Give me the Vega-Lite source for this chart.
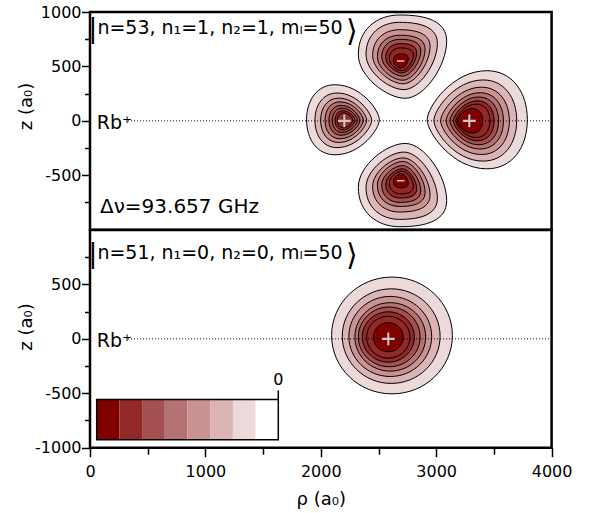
{
  "$schema": "https://vega.github.io/schema/vega-lite/v6.json",
  "padding": {"left": 16, "top": 2, "right": 5, "bottom": 5},
  "background": "white",
  "spacing": 0,
  "bounds": "flush",
  "config": {
    "font": "DejaVu Sans",
    "view": {"stroke": "black", "strokeWidth": 2.5},
    "axis": {
      "domain": false, "grid": false,
      "labelFont": "DejaVu Sans", "labelFontSize": 16, "labelColor": "black",
      "titleFont": "DejaVu Sans", "titleFontSize": 18, "titleFontWeight": "normal", "titleColor": "black",
      "tickColor": "black", "tickWidth": 1.5,
      "labelFlush": false, "labelOverlap": false, "labelBound": false
    }
  },
  "datasets": {
    "topContours": [
      {"lobe": "up", "level": -1.5, "rho": 2708, "z": 590, "w": 765},
      {"lobe": "up", "level": -2.5, "rho": 2701, "z": 596, "w": 618},
      {"lobe": "up", "level": -3.5, "rho": 2698, "z": 589, "w": 497},
      {"lobe": "up", "level": -4.5, "rho": 2697, "z": 580, "w": 413},
      {"lobe": "up", "level": -5.5, "rho": 2697, "z": 580, "w": 338},
      {"lobe": "up", "level": -6.3, "rho": 2697, "z": 575, "w": 269},
      {"lobe": "up", "level": -6.7, "rho": 2698, "z": 566, "w": 208},
      {"lobe": "up", "level": -7.5, "rho": 2693, "z": 550, "w": 130},
      {"lobe": "down", "level": -1.5, "rho": 2708, "z": -590, "w": 765},
      {"lobe": "down", "level": -2.5, "rho": 2701, "z": -596, "w": 618},
      {"lobe": "down", "level": -3.5, "rho": 2698, "z": -589, "w": 497},
      {"lobe": "down", "level": -4.5, "rho": 2697, "z": -580, "w": 413},
      {"lobe": "down", "level": -5.5, "rho": 2697, "z": -580, "w": 338},
      {"lobe": "down", "level": -6.3, "rho": 2697, "z": -575, "w": 269},
      {"lobe": "down", "level": -6.7, "rho": 2698, "z": -566, "w": 208},
      {"lobe": "down", "level": -7.5, "rho": 2693, "z": -550, "w": 130},
      {"lobe": "left", "level": -1.5, "rho": 2192, "z": 10, "w": 630},
      {"lobe": "left", "level": -2.5, "rho": 2195, "z": 5, "w": 491},
      {"lobe": "left", "level": -3.5, "rho": 2198, "z": 5, "w": 399},
      {"lobe": "left", "level": -4.5, "rho": 2203, "z": 5, "w": 332},
      {"lobe": "left", "level": -5.3, "rho": 2205, "z": 5, "w": 269},
      {"lobe": "left", "level": -5.7, "rho": 2208, "z": 5, "w": 217},
      {"lobe": "left", "level": -6.3, "rho": 2210, "z": 5, "w": 173},
      {"lobe": "left", "level": -6.6, "rho": 2210, "z": 5, "w": 133},
      {"lobe": "right", "level": -1.5, "rho": 3356, "z": 10, "w": 867},
      {"lobe": "right", "level": -2.5, "rho": 3339, "z": 3, "w": 717},
      {"lobe": "right", "level": -3.5, "rho": 3336, "z": 0, "w": 595},
      {"lobe": "right", "level": -4.5, "rho": 3334, "z": 0, "w": 497},
      {"lobe": "right", "level": -5.5, "rho": 3330, "z": 0, "w": 422},
      {"lobe": "right", "level": -6.3, "rho": 3325, "z": 0, "w": 353},
      {"lobe": "right", "level": -6.7, "rho": 3319, "z": 0, "w": 295},
      {"lobe": "right", "level": -7.5, "rho": 3293, "z": 0, "w": 219}
    ],
    "bottomContours": [
      {"lobe": "round", "level": -1.5, "rho": 2617, "z": 31, "w": 1046},
      {"lobe": "round", "level": -2.5, "rho": 2610, "z": 25, "w": 847},
      {"lobe": "round", "level": -3.5, "rho": 2602, "z": 22, "w": 717},
      {"lobe": "round", "level": -4.5, "rho": 2602, "z": 18, "w": 613},
      {"lobe": "round", "level": -5.5, "rho": 2593, "z": 18, "w": 535},
      {"lobe": "round", "level": -6.3, "rho": 2585, "z": 17, "w": 451},
      {"lobe": "round", "level": -6.7, "rho": 2585, "z": 15, "w": 375},
      {"lobe": "round", "level": -7.5, "rho": 2585, "z": 15, "w": 260}
    ],
    "topMarkers": [
      {"sign": "minus", "rho": 2692, "z": 550},
      {"sign": "minus", "rho": 2692, "z": -550},
      {"sign": "plus", "rho": 2204, "z": 0},
      {"sign": "plus", "rho": 3287, "z": 0}
    ],
    "bottomMarkers": [
      {"sign": "plus", "rho": 2585, "z": 0}
    ],
    "legendBins": [
      {"lo": -8, "hi": -7, "level": -7.5},
      {"lo": -7, "hi": -6, "level": -6.5},
      {"lo": -6, "hi": -5, "level": -5.5},
      {"lo": -5, "hi": -4, "level": -4.5},
      {"lo": -4, "hi": -3, "level": -3.5},
      {"lo": -3, "hi": -2, "level": -2.5},
      {"lo": -2, "hi": -1, "level": -1.5},
      {"lo": -1, "hi": 0, "level": -0.5}
    ]
  },
  "vconcat": [
    {
      "width": 461.6,
      "height": 217.7,
      "layer": [
        {
          "data": {"name": "topContours"},
          "mark": {"type": "point", "filled": true, "opacity": 1, "stroke": "black", "strokeWidth": 1, "strokeOpacity": 1},
          "encoding": {
            "x": {"field": "rho", "type": "quantitative", "scale": {"domain": [0, 4000], "nice": false, "zero": false}, "axis": null},
            "y": {
              "field": "z", "type": "quantitative",
              "scale": {"domain": [-1000, 1000], "nice": false, "zero": false},
              "axis": {"values": [1000, 750, 500, 250, 0, -250, -500, -750], "labelExpr": "datum.value % 500 === 0 ? '' + datum.value : ''", "tickSize": 8.5, "tickDash": {"condition": {"test": "datum.value % 500 !== 0", "value": [5.5, 30]}, "value": [30, 1]}, "labelPadding": 0.5, "title": "z (a₀)", "titleX": -63.5, "titleY": 94, "titleAngle": -90, "titleBaseline": "middle", "titleAlign": "center"}
            },
            "shape": {
              "field": "lobe", "type": "nominal", "legend": null,
              "scale": {
                "domain": ["up", "down", "left", "right", "round", "plus", "minus"],
                "range": [
                  "M0.06,0.943C-0.35,0.943,-1,0.45,-1,-0.05C-1,-0.6,-0.6,-0.943,-0.06,-0.943C0.55,-0.943,1,-0.8,1,-0.35C1,0.2,0.5,0.943,0.06,0.943Z",
                  "M0.06,-0.943C-0.35,-0.943,-1,-0.45,-1,0.05C-1,0.6,-0.6,0.943,-0.06,0.943C0.55,0.943,1,0.8,1,0.35C1,-0.2,0.5,-0.943,0.06,-0.943Z",
                  "M1,0C1,-0.25,0.5,-0.963,-0.22,-0.963C-0.7,-0.963,-1,-0.55,-1,0C-1,0.55,-0.7,0.963,-0.22,0.963C0.5,0.963,1,0.25,1,0Z",
                  "M-1,0C-1,-0.25,-0.5,-0.98,0.19,-0.98C0.7,-0.98,1,-0.55,1,0C1,0.55,0.7,0.98,0.19,0.98C-0.5,0.98,-1,0.25,-1,0Z",
                  "M1,0C1,0.534,0.552,0.967,0,0.967C-0.552,0.967,-1,0.534,-1,0C-1,-0.534,-0.552,-0.967,0,-0.967C0.552,-0.967,1,-0.534,1,0Z",
                  "M-1,-0.16H1V0.16H-1Z M-0.16,-1H0.16V1H-0.16Z",
                  "M-0.58,-0.12H0.58V0.12H-0.58Z"
                ]
              }
            },
            "size": {"field": "w", "type": "quantitative", "legend": null, "scale": {"type": "pow", "exponent": 2, "domain": [0, 1000], "range": [0, 13340], "zero": true}},
            "fill": {"field": "level", "type": "quantitative", "legend": null, "scale": {"type": "threshold", "domain": [-7, -6, -5, -4, -3, -2, -1], "range": ["#800000", "#922828", "#a55050", "#b47272", "#c99393", "#dbb5b5", "#ecd9d9", "#ffffff"]}},
            "order": {"field": "w", "type": "quantitative", "sort": "descending"}
          }
        },
        {
          "data": {"values": [{}]},
          "mark": {"type": "rule", "color": "black", "strokeWidth": 1, "strokeDash": [1, 2]},
          "encoding": {
            "x": {"datum": 330, "axis": null}, "x2": {"datum": 4000},
            "y": {"datum": 0, "axis": {"values": [1000, 750, 500, 250, 0, -250, -500, -750], "labelExpr": "datum.value % 500 === 0 ? '' + datum.value : ''", "tickSize": 8.5, "tickDash": {"condition": {"test": "datum.value % 500 !== 0", "value": [5.5, 30]}, "value": [30, 1]}, "labelPadding": 0.5, "title": "z (a₀)", "titleX": -63.5, "titleY": 94, "titleAngle": -90, "titleBaseline": "middle", "titleAlign": "center"}}
          }
        },
        {
          "data": {"name": "topMarkers"},
          "mark": {"type": "point", "filled": true, "opacity": 1, "fill": "#c8c8c8", "strokeWidth": 0, "size": 165},
          "encoding": {
            "x": {"field": "rho", "type": "quantitative", "axis": null},
            "y": {"field": "z", "type": "quantitative", "axis": {"values": [1000, 750, 500, 250, 0, -250, -500, -750], "labelExpr": "datum.value % 500 === 0 ? '' + datum.value : ''", "tickSize": 8.5, "tickDash": {"condition": {"test": "datum.value % 500 !== 0", "value": [5.5, 30]}, "value": [30, 1]}, "labelPadding": 0.5, "title": "z (a₀)", "titleX": -63.5, "titleY": 94, "titleAngle": -90, "titleBaseline": "middle", "titleAlign": "center"}},
            "shape": {"field": "sign", "type": "nominal", "legend": null}
          }
        },
        {
          "data": {"values": [{}]},
          "mark": {"type": "text", "text": "|", "font": "DejaVu Sans", "fontSize": 26, "align": "center", "baseline": "alphabetic", "color": "black"},
          "encoding": {
            "x": {"datum": 25, "axis": null},
            "y": {"datum": 766, "axis": {"values": [1000, 750, 500, 250, 0, -250, -500, -750], "labelExpr": "datum.value % 500 === 0 ? '' + datum.value : ''", "tickSize": 8.5, "tickDash": {"condition": {"test": "datum.value % 500 !== 0", "value": [5.5, 30]}, "value": [30, 1]}, "labelPadding": 0.5, "title": "z (a₀)", "titleX": -63.5, "titleY": 94, "titleAngle": -90, "titleBaseline": "middle", "titleAlign": "center"}}
          }
        },
        {
          "data": {"values": [{}]},
          "mark": {"type": "text", "text": "n=53, n₁=1, n₂=1, mₗ=50", "font": "DejaVu Sans", "fontSize": 19, "align": "left", "baseline": "alphabetic", "color": "black"},
          "encoding": {
            "x": {"datum": 64, "axis": null},
            "y": {"datum": 798, "axis": {"values": [1000, 750, 500, 250, 0, -250, -500, -750], "labelExpr": "datum.value % 500 === 0 ? '' + datum.value : ''", "tickSize": 8.5, "tickDash": {"condition": {"test": "datum.value % 500 !== 0", "value": [5.5, 30]}, "value": [30, 1]}, "labelPadding": 0.5, "title": "z (a₀)", "titleX": -63.5, "titleY": 94, "titleAngle": -90, "titleBaseline": "middle", "titleAlign": "center"}}
          }
        },
        {
          "data": {"values": [{}]},
          "mark": {"type": "text", "text": "⟩", "font": "DejaVu Sans", "fontSize": 30, "align": "center", "baseline": "alphabetic", "color": "black"},
          "encoding": {
            "x": {"datum": 2268, "axis": null},
            "y": {"datum": 735, "axis": {"values": [1000, 750, 500, 250, 0, -250, -500, -750], "labelExpr": "datum.value % 500 === 0 ? '' + datum.value : ''", "tickSize": 8.5, "tickDash": {"condition": {"test": "datum.value % 500 !== 0", "value": [5.5, 30]}, "value": [30, 1]}, "labelPadding": 0.5, "title": "z (a₀)", "titleX": -63.5, "titleY": 94, "titleAngle": -90, "titleBaseline": "middle", "titleAlign": "center"}}
          }
        },
        {
          "data": {"values": [{}]},
          "mark": {"type": "text", "text": "Rb⁺", "font": "DejaVu Sans", "fontSize": 19, "align": "left", "baseline": "alphabetic", "color": "black"},
          "encoding": {
            "x": {"datum": 58, "axis": null},
            "y": {"datum": -75, "axis": {"values": [1000, 750, 500, 250, 0, -250, -500, -750], "labelExpr": "datum.value % 500 === 0 ? '' + datum.value : ''", "tickSize": 8.5, "tickDash": {"condition": {"test": "datum.value % 500 !== 0", "value": [5.5, 30]}, "value": [30, 1]}, "labelPadding": 0.5, "title": "z (a₀)", "titleX": -63.5, "titleY": 94, "titleAngle": -90, "titleBaseline": "middle", "titleAlign": "center"}}
          }
        },
        {
          "data": {"values": [{}]},
          "mark": {"type": "text", "text": "Δν=93.657 GHz", "font": "DejaVu Sans", "fontSize": 20, "align": "left", "baseline": "alphabetic", "color": "black"},
          "encoding": {
            "x": {"datum": 87, "axis": null},
            "y": {"datum": -847, "axis": {"values": [1000, 750, 500, 250, 0, -250, -500, -750], "labelExpr": "datum.value % 500 === 0 ? '' + datum.value : ''", "tickSize": 8.5, "tickDash": {"condition": {"test": "datum.value % 500 !== 0", "value": [5.5, 30]}, "value": [30, 1]}, "labelPadding": 0.5, "title": "z (a₀)", "titleX": -63.5, "titleY": 94, "titleAngle": -90, "titleBaseline": "middle", "titleAlign": "center"}}
          }
        }
      ]
    },
    {
      "width": 461.6,
      "height": 217.7,
      "resolve": {"scale": {"x": "independent"}},
      "layer": [
        {
          "layer": [
            {
              "data": {"name": "bottomContours"},
              "mark": {"type": "point", "filled": true, "opacity": 1, "stroke": "black", "strokeWidth": 1, "strokeOpacity": 1},
              "encoding": {
                "x": {
                  "field": "rho", "type": "quantitative",
                  "scale": {"domain": [0, 4000], "nice": false, "zero": false},
                  "axis": {"values": [0, 500, 1000, 1500, 2000, 2500, 3000, 3500, 4000], "labelExpr": "datum.value % 1000 === 0 ? '' + datum.value : ''", "tickSize": 9, "tickDash": {"condition": {"test": "datum.value % 1000 !== 0", "value": [6.5, 30]}, "value": [30, 1]}, "labelPadding": 7, "title": "ρ (a₀)", "titleY": 57, "titleBaseline": "alphabetic", "titleAlign": "center"}
                },
                "y": {
                  "field": "z", "type": "quantitative",
                  "scale": {"domain": [-1000, 1000], "nice": false, "zero": false},
                  "axis": {"values": [750, 500, 250, 0, -250, -500, -750, -1000], "labelExpr": "datum.value % 500 === 0 ? '' + datum.value : ''", "tickSize": 8.5, "tickDash": {"condition": {"test": "datum.value % 500 !== 0", "value": [5.5, 30]}, "value": [30, 1]}, "labelPadding": 0.5, "title": "z (a₀)", "titleX": -63.5, "titleY": 96.5, "titleAngle": -90, "titleBaseline": "middle", "titleAlign": "center"}
                },
                "shape": {
                  "field": "lobe", "type": "nominal", "legend": null,
                  "scale": {
                    "domain": ["up", "down", "left", "right", "round", "plus", "minus"],
                    "range": [
                      "M0.06,0.943C-0.35,0.943,-1,0.45,-1,-0.05C-1,-0.6,-0.6,-0.943,-0.06,-0.943C0.55,-0.943,1,-0.8,1,-0.35C1,0.2,0.5,0.943,0.06,0.943Z",
                      "M0.06,-0.943C-0.35,-0.943,-1,-0.45,-1,0.05C-1,0.6,-0.6,0.943,-0.06,0.943C0.55,0.943,1,0.8,1,0.35C1,-0.2,0.5,-0.943,0.06,-0.943Z",
                      "M1,0C1,-0.25,0.5,-0.963,-0.22,-0.963C-0.7,-0.963,-1,-0.55,-1,0C-1,0.55,-0.7,0.963,-0.22,0.963C0.5,0.963,1,0.25,1,0Z",
                      "M-1,0C-1,-0.25,-0.5,-0.98,0.19,-0.98C0.7,-0.98,1,-0.55,1,0C1,0.55,0.7,0.98,0.19,0.98C-0.5,0.98,-1,0.25,-1,0Z",
                      "M1,0C1,0.534,0.552,0.967,0,0.967C-0.552,0.967,-1,0.534,-1,0C-1,-0.534,-0.552,-0.967,0,-0.967C0.552,-0.967,1,-0.534,1,0Z",
                      "M-1,-0.16H1V0.16H-1Z M-0.16,-1H0.16V1H-0.16Z",
                      "M-0.58,-0.12H0.58V0.12H-0.58Z"
                    ]
                  }
                },
                "size": {"field": "w", "type": "quantitative", "legend": null, "scale": {"type": "pow", "exponent": 2, "domain": [0, 1000], "range": [0, 13340], "zero": true}},
                "fill": {"field": "level", "type": "quantitative", "legend": null, "scale": {"type": "threshold", "domain": [-7, -6, -5, -4, -3, -2, -1], "range": ["#800000", "#922828", "#a55050", "#b47272", "#c99393", "#dbb5b5", "#ecd9d9", "#ffffff"]}},
                "order": {"field": "w", "type": "quantitative", "sort": "descending"}
              }
            },
            {
              "data": {"values": [{}]},
              "mark": {"type": "rule", "color": "black", "strokeWidth": 1, "strokeDash": [1, 2]},
              "encoding": {
                "x": {"datum": 330, "axis": {"values": [0, 500, 1000, 1500, 2000, 2500, 3000, 3500, 4000], "labelExpr": "datum.value % 1000 === 0 ? '' + datum.value : ''", "tickSize": 9, "tickDash": {"condition": {"test": "datum.value % 1000 !== 0", "value": [6.5, 30]}, "value": [30, 1]}, "labelPadding": 7, "title": "ρ (a₀)", "titleY": 57, "titleBaseline": "alphabetic", "titleAlign": "center"}},
                "x2": {"datum": 4000},
                "y": {"datum": 0, "axis": {"values": [750, 500, 250, 0, -250, -500, -750, -1000], "labelExpr": "datum.value % 500 === 0 ? '' + datum.value : ''", "tickSize": 8.5, "tickDash": {"condition": {"test": "datum.value % 500 !== 0", "value": [5.5, 30]}, "value": [30, 1]}, "labelPadding": 0.5, "title": "z (a₀)", "titleX": -63.5, "titleY": 96.5, "titleAngle": -90, "titleBaseline": "middle", "titleAlign": "center"}}
              }
            },
            {
              "data": {"name": "bottomMarkers"},
              "mark": {"type": "point", "filled": true, "opacity": 1, "fill": "#c8c8c8", "strokeWidth": 0, "size": 165},
              "encoding": {
                "x": {"field": "rho", "type": "quantitative", "axis": {"values": [0, 500, 1000, 1500, 2000, 2500, 3000, 3500, 4000], "labelExpr": "datum.value % 1000 === 0 ? '' + datum.value : ''", "tickSize": 9, "tickDash": {"condition": {"test": "datum.value % 1000 !== 0", "value": [6.5, 30]}, "value": [30, 1]}, "labelPadding": 7, "title": "ρ (a₀)", "titleY": 57, "titleBaseline": "alphabetic", "titleAlign": "center"}},
                "y": {"field": "z", "type": "quantitative", "axis": {"values": [750, 500, 250, 0, -250, -500, -750, -1000], "labelExpr": "datum.value % 500 === 0 ? '' + datum.value : ''", "tickSize": 8.5, "tickDash": {"condition": {"test": "datum.value % 500 !== 0", "value": [5.5, 30]}, "value": [30, 1]}, "labelPadding": 0.5, "title": "z (a₀)", "titleX": -63.5, "titleY": 96.5, "titleAngle": -90, "titleBaseline": "middle", "titleAlign": "center"}},
                "shape": {"field": "sign", "type": "nominal", "legend": null}
              }
            },
            {
              "data": {"values": [{}]},
              "mark": {"type": "text", "text": "|", "font": "DejaVu Sans", "fontSize": 26, "align": "center", "baseline": "alphabetic", "color": "black"},
              "encoding": {
                "x": {"datum": 25, "axis": {"values": [0, 500, 1000, 1500, 2000, 2500, 3000, 3500, 4000], "labelExpr": "datum.value % 1000 === 0 ? '' + datum.value : ''", "tickSize": 9, "tickDash": {"condition": {"test": "datum.value % 1000 !== 0", "value": [6.5, 30]}, "value": [30, 1]}, "labelPadding": 7, "title": "ρ (a₀)", "titleY": 57, "titleBaseline": "alphabetic", "titleAlign": "center"}},
                "y": {"datum": 705, "axis": {"values": [750, 500, 250, 0, -250, -500, -750, -1000], "labelExpr": "datum.value % 500 === 0 ? '' + datum.value : ''", "tickSize": 8.5, "tickDash": {"condition": {"test": "datum.value % 500 !== 0", "value": [5.5, 30]}, "value": [30, 1]}, "labelPadding": 0.5, "title": "z (a₀)", "titleX": -63.5, "titleY": 96.5, "titleAngle": -90, "titleBaseline": "middle", "titleAlign": "center"}}
              }
            },
            {
              "data": {"values": [{}]},
              "mark": {"type": "text", "text": "n=51, n₁=0, n₂=0, mₗ=50", "font": "DejaVu Sans", "fontSize": 19, "align": "left", "baseline": "alphabetic", "color": "black"},
              "encoding": {
                "x": {"datum": 64, "axis": {"values": [0, 500, 1000, 1500, 2000, 2500, 3000, 3500, 4000], "labelExpr": "datum.value % 1000 === 0 ? '' + datum.value : ''", "tickSize": 9, "tickDash": {"condition": {"test": "datum.value % 1000 !== 0", "value": [6.5, 30]}, "value": [30, 1]}, "labelPadding": 7, "title": "ρ (a₀)", "titleY": 57, "titleBaseline": "alphabetic", "titleAlign": "center"}},
                "y": {"datum": 733, "axis": {"values": [750, 500, 250, 0, -250, -500, -750, -1000], "labelExpr": "datum.value % 500 === 0 ? '' + datum.value : ''", "tickSize": 8.5, "tickDash": {"condition": {"test": "datum.value % 500 !== 0", "value": [5.5, 30]}, "value": [30, 1]}, "labelPadding": 0.5, "title": "z (a₀)", "titleX": -63.5, "titleY": 96.5, "titleAngle": -90, "titleBaseline": "middle", "titleAlign": "center"}}
              }
            },
            {
              "data": {"values": [{}]},
              "mark": {"type": "text", "text": "⟩", "font": "DejaVu Sans", "fontSize": 30, "align": "center", "baseline": "alphabetic", "color": "black"},
              "encoding": {
                "x": {"datum": 2268, "axis": {"values": [0, 500, 1000, 1500, 2000, 2500, 3000, 3500, 4000], "labelExpr": "datum.value % 1000 === 0 ? '' + datum.value : ''", "tickSize": 9, "tickDash": {"condition": {"test": "datum.value % 1000 !== 0", "value": [6.5, 30]}, "value": [30, 1]}, "labelPadding": 7, "title": "ρ (a₀)", "titleY": 57, "titleBaseline": "alphabetic", "titleAlign": "center"}},
                "y": {"datum": 680, "axis": {"values": [750, 500, 250, 0, -250, -500, -750, -1000], "labelExpr": "datum.value % 500 === 0 ? '' + datum.value : ''", "tickSize": 8.5, "tickDash": {"condition": {"test": "datum.value % 500 !== 0", "value": [5.5, 30]}, "value": [30, 1]}, "labelPadding": 0.5, "title": "z (a₀)", "titleX": -63.5, "titleY": 96.5, "titleAngle": -90, "titleBaseline": "middle", "titleAlign": "center"}}
              }
            },
            {
              "data": {"values": [{}]},
              "mark": {"type": "text", "text": "Rb⁺", "font": "DejaVu Sans", "fontSize": 19, "align": "left", "baseline": "alphabetic", "color": "black"},
              "encoding": {
                "x": {"datum": 58, "axis": {"values": [0, 500, 1000, 1500, 2000, 2500, 3000, 3500, 4000], "labelExpr": "datum.value % 1000 === 0 ? '' + datum.value : ''", "tickSize": 9, "tickDash": {"condition": {"test": "datum.value % 1000 !== 0", "value": [6.5, 30]}, "value": [30, 1]}, "labelPadding": 7, "title": "ρ (a₀)", "titleY": 57, "titleBaseline": "alphabetic", "titleAlign": "center"}},
                "y": {"datum": -75, "axis": {"values": [750, 500, 250, 0, -250, -500, -750, -1000], "labelExpr": "datum.value % 500 === 0 ? '' + datum.value : ''", "tickSize": 8.5, "tickDash": {"condition": {"test": "datum.value % 500 !== 0", "value": [5.5, 30]}, "value": [30, 1]}, "labelPadding": 0.5, "title": "z (a₀)", "titleX": -63.5, "titleY": 96.5, "titleAngle": -90, "titleBaseline": "middle", "titleAlign": "center"}}
              }
            }
          ]
        },
        {
          "layer": [
            {
              "data": {"name": "legendBins"},
              "mark": {"type": "rect", "strokeWidth": 0},
              "encoding": {
                "x": {"field": "lo", "type": "quantitative", "scale": {"domain": [-8, 0], "range": [6.7, 188.3], "nice": false, "zero": false}, "axis": null},
                "x2": {"field": "hi"},
                "y": {"datum": -558, "axis": {"values": [750, 500, 250, 0, -250, -500, -750, -1000], "labelExpr": "datum.value % 500 === 0 ? '' + datum.value : ''", "tickSize": 8.5, "tickDash": {"condition": {"test": "datum.value % 500 !== 0", "value": [5.5, 30]}, "value": [30, 1]}, "labelPadding": 0.5, "title": "z (a₀)", "titleX": -63.5, "titleY": 96.5, "titleAngle": -90, "titleBaseline": "middle", "titleAlign": "center"}},
                "y2": {"datum": -926},
                "fill": {"field": "level", "type": "quantitative", "legend": null, "scale": {"type": "threshold", "domain": [-7, -6, -5, -4, -3, -2, -1], "range": ["#800000", "#922828", "#a55050", "#b47272", "#c99393", "#dbb5b5", "#ecd9d9", "#ffffff"]}}
              }
            },
            {
              "data": {"values": [{}]},
              "mark": {"type": "rect", "fill": "transparent", "stroke": "black", "strokeWidth": 1.5},
              "encoding": {
                "x": {"datum": -8, "axis": null}, "x2": {"datum": 0},
                "y": {"datum": -558, "axis": {"values": [750, 500, 250, 0, -250, -500, -750, -1000], "labelExpr": "datum.value % 500 === 0 ? '' + datum.value : ''", "tickSize": 8.5, "tickDash": {"condition": {"test": "datum.value % 500 !== 0", "value": [5.5, 30]}, "value": [30, 1]}, "labelPadding": 0.5, "title": "z (a₀)", "titleX": -63.5, "titleY": 96.5, "titleAngle": -90, "titleBaseline": "middle", "titleAlign": "center"}},
                "y2": {"datum": -926}
              }
            },
            {
              "data": {"values": [{}]},
              "mark": {"type": "rule", "color": "black", "strokeWidth": 1.5},
              "encoding": {
                "x": {"datum": 0, "axis": null},
                "y": {"datum": -558, "axis": {"values": [750, 500, 250, 0, -250, -500, -750, -1000], "labelExpr": "datum.value % 500 === 0 ? '' + datum.value : ''", "tickSize": 8.5, "tickDash": {"condition": {"test": "datum.value % 500 !== 0", "value": [5.5, 30]}, "value": [30, 1]}, "labelPadding": 0.5, "title": "z (a₀)", "titleX": -63.5, "titleY": 96.5, "titleAngle": -90, "titleBaseline": "middle", "titleAlign": "center"}},
                "y2": {"datum": -473}
              }
            },
            {
              "data": {"values": [{}]},
              "mark": {"type": "text", "text": "0", "font": "DejaVu Sans", "fontSize": 16, "align": "center", "baseline": "alphabetic", "color": "black"},
              "encoding": {
                "x": {"datum": 0, "axis": null},
                "y": {"datum": -427, "axis": {"values": [750, 500, 250, 0, -250, -500, -750, -1000], "labelExpr": "datum.value % 500 === 0 ? '' + datum.value : ''", "tickSize": 8.5, "tickDash": {"condition": {"test": "datum.value % 500 !== 0", "value": [5.5, 30]}, "value": [30, 1]}, "labelPadding": 0.5, "title": "z (a₀)", "titleX": -63.5, "titleY": 96.5, "titleAngle": -90, "titleBaseline": "middle", "titleAlign": "center"}}
              }
            }
          ]
        }
      ]
    }
  ]
}
